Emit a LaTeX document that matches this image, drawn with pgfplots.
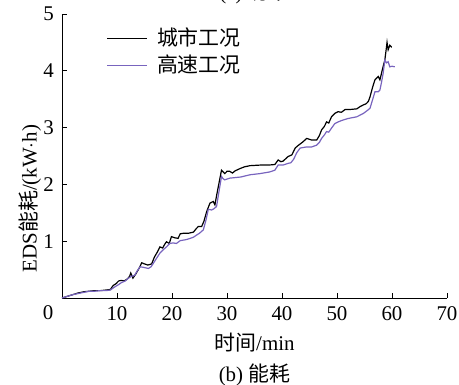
\documentclass[border=0pt]{standalone}
\usepackage{fontspec}
\setmainfont{Liberation Serif}
\newfontfamily\cjk{Noto Sans CJK SC}
\usepackage{pgfplots}
\pgfplotsset{compat=1.18}
\definecolor{pur}{RGB}{120,100,190}
\begin{document}
\fontsize{21}{25}\selectfont
\begin{tikzpicture}
\begin{axis}[
  at={(0,0)}, anchor=south west,
  scale only axis, width=385bp, height=284bp,
  xmin=0, xmax=70, ymin=0, ymax=5,
  axis lines*=left,
  axis line style={line width=0.9pt},
  xtick={10,20,...,70}, ytick={1,2,3,4,5},
  tick align=inside, major tick length=5bp,
  tick style={line width=0.8pt, black},
  /pgf/number format/assume math mode=true,
  ticklabel style={font=\fontsize{21}{25}\selectfont},
  xticklabel style={yshift=-1bp},
  yticklabel style={xshift=-1bp},
  xlabel={{\cjk 时间}/min},
  xlabel style={yshift=1bp},
  ylabel={EDS{\cjk 能耗}/(kW$\cdot$h)},
  ylabel style={at={(axis description cs:-0.083,0.35)}, anchor=center},
  legend style={draw=none, fill=none, at={(axis description cs:0.116,0.958)}, anchor=north west,
    font=\cjk\fontsize{21}{25}\selectfont, row sep=2bp, inner sep=0pt},
  legend cell align=left,
  legend image code/.code={\draw[#1] (0bp,0bp) -- (40bp,0bp); \path (47bp,0bp);},
]
\addplot[black, line width=1.2pt] coordinates {
(0,0) (1,0.03) (2,0.06) (3,0.09) (4,0.11) (5,0.12) (6,0.13) (7,0.13) (8,0.14) (8.8,0.15)
(9.3,0.22) (9.8,0.25) (10.3,0.30) (10.8,0.31) (11.3,0.30) (11.8,0.33) (12.3,0.38) (12.5,0.44)
(12.9,0.35) (13.4,0.42) (14.0,0.52) (14.5,0.62) (15.0,0.60) (15.6,0.58) (16.3,0.60) (16.8,0.72)
(17.4,0.82) (17.8,0.90) (18.3,0.88) (18.7,0.95) (19.0,0.99) (19.5,0.96) (19.9,1.08) (20.5,1.06)
(21.1,1.05) (21.5,1.13) (22.1,1.14) (23.0,1.14) (23.9,1.16) (24.4,1.22) (24.8,1.26) (25.4,1.26)
(25.8,1.35) (26.3,1.52) (26.9,1.67) (27.5,1.70) (27.8,1.64) (28.2,1.85) (28.6,2.05) (29.0,2.25)
(29.3,2.22) (29.6,2.19) (30.0,2.23) (30.5,2.23) (31.0,2.20) (31.5,2.24) (32.4,2.28) (33.2,2.31)
(34.2,2.33) (36,2.34) (37.5,2.34) (38.7,2.35) (39.3,2.43) (39.8,2.40) (40.2,2.41) (41.1,2.49)
(41.8,2.52) (42.4,2.64) (43.0,2.69) (43.7,2.74) (44.5,2.81) (45.4,2.78) (46.3,2.78) (46.8,2.86)
(47.2,2.96) (47.7,3.02) (48.1,3.10) (48.5,3.08) (49.0,3.19) (49.6,3.25) (50.2,3.28) (50.8,3.27)
(51.5,3.32) (52.5,3.32) (53.6,3.33) (54.2,3.37) (54.8,3.40) (55.3,3.42) (55.7,3.46) (56.0,3.54)
(56.5,3.72) (56.9,3.84) (57.5,3.90) (57.8,3.84) (58.1,3.96) (58.4,4.08) (58.7,4.19) (59.0,4.42)
(59.1,4.50) (59.3,4.37) (59.6,4.45) (59.9,4.42) (60.0,4.42)
};
\addlegendentry{城市工况}
\addplot[pur, line width=1.2pt] coordinates {
(0,0) (1,0.03) (2,0.06) (3,0.08) (4,0.10) (5,0.12) (6,0.12) (7,0.13) (8,0.13) (8.8,0.14)
(9.5,0.19) (10.2,0.23) (10.8,0.27) (11.5,0.30) (12.1,0.35) (12.6,0.38) (13.2,0.40) (13.7,0.48)
(14.2,0.55) (14.8,0.54) (15.7,0.52) (16.2,0.55) (16.6,0.61) (17.2,0.70) (17.8,0.79) (18.4,0.85)
(19.0,0.90) (19.6,0.96) (20.2,0.97) (20.8,0.96) (21.5,1.01) (22.7,1.03) (23.9,1.07) (24.5,1.11)
(25.0,1.14) (25.7,1.20) (26.2,1.38) (26.6,1.56) (27.2,1.55) (27.6,1.57) (28.1,1.61) (28.5,1.85)
(29.0,2.14) (29.3,2.10) (29.6,2.08) (30.5,2.11) (31.5,2.12) (32.5,2.13) (34.2,2.17) (36,2.19)
(37.8,2.22) (38.7,2.25) (39.3,2.34) (40.2,2.34) (41.1,2.37) (41.6,2.38) (42.1,2.44) (42.7,2.56)
(43.3,2.64) (44.5,2.66) (45.4,2.66) (46.3,2.69) (46.8,2.74) (47.2,2.81) (47.7,2.87) (48.1,2.93)
(48.5,2.92) (49.0,2.99) (49.6,3.07) (50.2,3.10) (51.0,3.13) (52.0,3.16) (53.6,3.19) (54.2,3.22)
(54.8,3.25) (55.5,3.30) (56.0,3.34) (56.5,3.50) (56.9,3.63) (57.5,3.63) (57.8,3.66) (58.1,3.80)
(58.4,3.96) (58.7,4.19) (59.0,4.14) (59.3,4.16) (59.6,4.07) (60.0,4.08) (60.5,4.07)
};
\addlegendentry{高速工况}
\end{axis}
\node[anchor=center] at (-14bp,-15bp) {0};
\node at (192.5bp,-77bp) {(b) {\cjk 能耗}};
\begin{scope}
\clip (-62bp,-87bp) rectangle (397bp,298bp);
\node[anchor=base] at (192.5bp,298bp) {(a) {\cjk 功率}};
\end{scope}
\pgfresetboundingbox
\path[use as bounding box] (-62bp,-87bp) rectangle (397bp,298bp);
\end{tikzpicture}
\end{document}
